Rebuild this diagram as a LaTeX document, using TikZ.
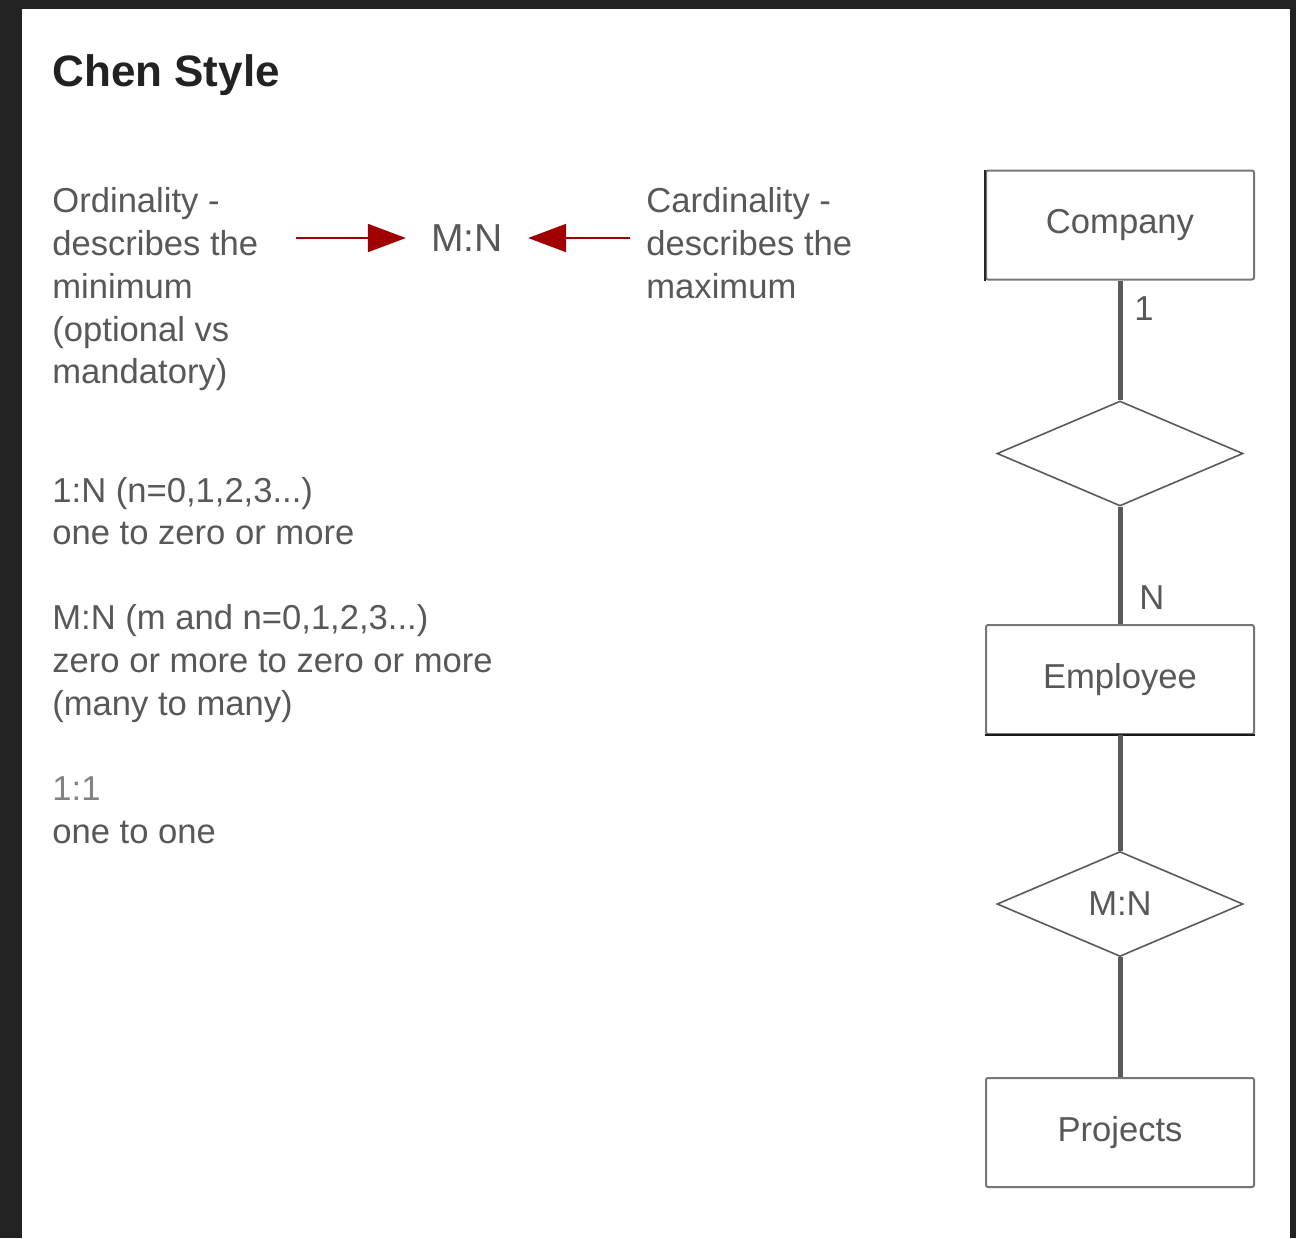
\documentclass[tikz,border=0pt]{standalone}
\usepackage{fontspec}
\setmainfont{Liberation Sans}
\usetikzlibrary{shapes.geometric,arrows.meta}
\definecolor{frame}{HTML}{222222}
\definecolor{txt}{HTML}{585858}
\definecolor{edge}{HTML}{777777}
\definecolor{link}{HTML}{5A5A5A}
\definecolor{arrowred}{HTML}{A00000}
\begin{document}
\begin{tikzpicture}[x=0.5pt,y=-0.5pt,
  body/.style={anchor=base west,inner sep=0pt,text=txt,font=\fontsize{17.3pt}{20pt}\selectfont},
  entity/.style={draw=edge,line width=1pt,rounded corners=1pt,minimum width=134pt,minimum height=54.5pt,text=txt,font=\fontsize{17.3pt}{20pt}\selectfont,inner sep=0pt},
  relation/.style={diamond,draw=link,line width=0.8pt,minimum width=123pt,minimum height=52.5pt,inner sep=0pt,text=txt,font=\fontsize{17.3pt}{20pt}\selectfont},
  conn/.style={draw=link,line width=2.5pt},
  redarrow/.style={draw=arrowred,line width=1pt,-{Triangle[length=19pt,width=14pt]}}]
% page and dark frame
\fill[frame] (0,0) rectangle (1296,1238);
\fill[white] (22,9) rectangle (1290,1238);
\useasboundingbox (0,0) rectangle (1296,1238);

% title
\node[anchor=base west,inner sep=0pt,text=frame,font=\fontsize{22pt}{26pt}\selectfont\bfseries] (title) at (52,86) {Chen Style};

% ordinality / cardinality explanation
\node[body] (ord1) at (52,212) {Ordinality -};
\node[body] (ord2) at (52,255) {describes the};
\node[body] (ord3) at (52,298) {minimum};
\node[body] (ord4) at (52,341) {(optional vs};
\node[body] (ord5) at (52,383) {mandatory)};

\node[body] (card1) at (646,212) {Cardinality -};
\node[body] (card2) at (646,255) {describes the};
\node[body] (card3) at (646,298) {maximum};

\node[inner xsep=12.5pt,inner ysep=0pt,text=txt,font=\fontsize{19.5pt}{22pt}\selectfont] (mn) at (467,238) {M:N};
\coordinate (lstart) at (296,238);
\coordinate (rstart) at (630,238);
\draw[redarrow] (lstart) -- (mn.west);
\draw[redarrow] (rstart) -- (mn.east);

% notation legend
\node[body] (l1a) at (52,502) {1:N (n=0,1,2,3...)};
\node[body] (l1b) at (52,544) {one to zero or more};
\node[body] (l2a) at (52,629) {M:N (m and n=0,1,2,3...)};
\node[body] (l2b) at (52,672) {zero or more to zero or more};
\node[body] (l2c) at (52,715) {(many to many)};
\node[body,text=txt!75] (l3a) at (52,800) {1:1};
\node[body] (l3b) at (52,843) {one to one};

% ER chain
\node[entity] (company) at (1120,225) {Company};
\node[relation] (rel1) at (1120,453.5) {};
\node[entity] (employee) at (1120,679.5) {Employee};
\node[relation] (rel2) at (1120,904) {M:N};
\node[entity] (projects) at (1120,1132.5) {Projects};

% darker edges
\draw[draw=black!85,line width=1pt] (company.south west) -- (company.north west);
\draw[draw=black!90,line width=1.2pt] (employee.south west) -- (employee.south east);

\draw[conn] (company) -- (rel1);
\draw[conn] (rel1) -- (employee);
\draw[conn] (employee) -- (rel2);
\draw[conn] (rel2) -- (projects);

\node[body] (one) at (1134,320) {1};
\node[body] (enn) at (1139,609) {N};
\end{tikzpicture}
\end{document}
